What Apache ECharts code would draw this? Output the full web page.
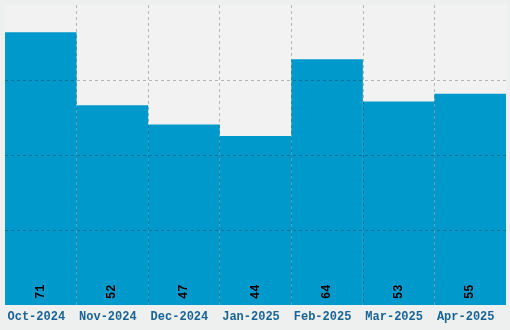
<!DOCTYPE html>
<html>
<head>
<meta charset="utf-8">
<style>html,body{margin:0;padding:0;background:#eef0f0;}#c{width:510px;height:330px;}</style>
<script src="https://cdn.jsdelivr.net/npm/echarts@6/dist/echarts.min.js"></script>
</head>
<body>
<div id="c"></div>
<script>
const categories = ['Oct-2024','Nov-2024','Dec-2024','Jan-2025','Feb-2025','Mar-2025','Apr-2025'];
const values = [71, 52, 47, 44, 64, 53, 55];
const yMax = 78.1;

const chart = echarts.init(document.getElementById('c'), null, {renderer:'canvas'});
const mono = '"Liberation Mono", "DejaVu Sans Mono", monospace';
chart.setOption({
  animation: false,
  backgroundColor: '#eef0f0',
  grid: {left: 5, right: 4, top: 5, bottom: 25, show: true, backgroundColor: '#f2f2f2', borderWidth: 0},
  xAxis: {
    type: 'category', data: categories, z: 5,
    axisLine: {show: false}, axisTick: {show: false},
    axisLabel: {color: '#1a6396', fontFamily: mono, fontWeight: 'bold', fontSize: 12, margin: 6, interval: 0,
      padding: [0, 9, 0, 0]},
    splitLine: {show: true, interval: 0, showMinLine: false, showMaxLine: false,
      lineStyle: {color: 'rgba(0,0,0,0.25)', type: [3,3], width: 1}}
  },
  yAxis: {
    type: 'value', min: 0, max: yMax, interval: yMax/4, z: 5,
    axisLabel: {show: false}, axisLine: {show: false}, axisTick: {show: false},
    splitLine: {show: true, showMinLine: false, showMaxLine: false,
      lineStyle: {color: 'rgba(0,0,0,0.25)', type: [3,3], width: 1}}
  },
  series: [{
    type: 'bar', data: values, barCategoryGap: '0%', z: 2,
    itemStyle: {color: '#0099cc'},
    label: {show: true, position: 'insideBottom', rotate: 90, align: 'left', verticalAlign: 'middle', distance: 6,
      color: '#000', fontFamily: mono, fontWeight: 'bold', fontSize: 12}
  }]
});
</script>
</body>
</html>
